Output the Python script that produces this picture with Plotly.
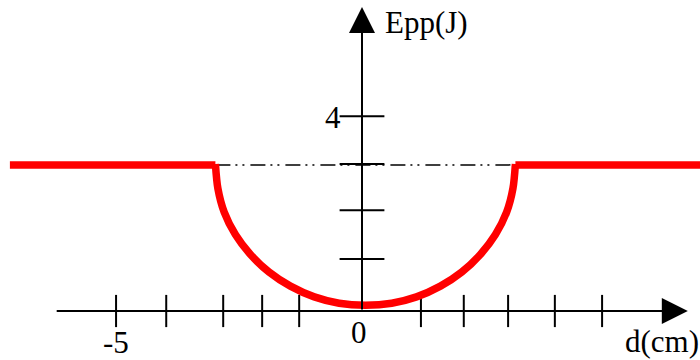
import plotly.graph_objects as go

# energy level of the flat parts (J) and the bowl
level = 3.0
left_x = [-7.23, -3.01]
right_x = [3.15, 7.0]

bowl_x = [-3.01, -2.96, -2.83, -2.60, -2.29, -1.91, -1.47, -0.98, -0.47, 0.07,
          0.61, 1.12, 1.61, 2.05, 2.43, 2.74, 2.97, 3.10, 3.15]
bowl_y = [3.02, 2.52, 2.03, 1.57, 1.16, 0.80, 0.51, 0.29, 0.16, 0.12,
          0.16, 0.29, 0.51, 0.80, 1.16, 1.57, 2.03, 2.52, 3.02]

# hand drawn tick positions
x_ticks = [-5.05, -4.02, -2.85, -2.05, -1.29, 1.21, 2.09, 3.00, 3.96, 4.93]
y_ticks = [1.07, 2.07, 3.02, 4.0]

x_labels = ["-5", "0"]
x_label_pos = [-5.05, -0.06]
y_labels = ["4"]

FONT = "Liberation Serif, Times New Roman, serif"
px_per_unit = 48.7

fig = go.Figure()

# dash-dot guide at the level
fig.add_trace(go.Scatter(
    x=[left_x[1], right_x[0]], y=[level, level], mode="lines",
    line=dict(color="black", width=1.5, dash="15px,5px,2px,5px,2px,6px"),
    hoverinfo="skip"))

# ticks crossing the axes
fig.add_trace(go.Scatter(
    x=x_ticks, y=[0] * len(x_ticks), mode="markers",
    marker=dict(symbol="line-ns", size=23, line=dict(color="black", width=2)),
    hoverinfo="skip"))
fig.add_trace(go.Scatter(
    x=[0] * len(y_ticks), y=y_ticks, mode="markers",
    marker=dict(symbol="line-ew", size=32, line=dict(color="black", width=2)),
    hoverinfo="skip"))

# Epp curve
fig.add_trace(go.Scatter(
    x=left_x + [None] + right_x, y=[level, level, None, level, level],
    mode="lines", line=dict(color="#ff0000", width=7.5), hoverinfo="skip"))
fig.add_trace(go.Scatter(
    x=bowl_x, y=bowl_y, mode="lines",
    line=dict(color="#ff0000", width=7.5, shape="spline", smoothing=0.8),
    hoverinfo="skip"))

# axes with arrows
fig.add_annotation(x=6.69, y=0, ax=-6.30, ay=0, axref="x", ayref="y",
                   xref="x", yref="y", text="", showarrow=True,
                   arrowhead=2, arrowsize=2.6, arrowwidth=2, arrowcolor="black")
fig.add_annotation(x=0, y=6.24, ax=0, ay=0, axref="x", ayref="y",
                   xref="x", yref="y", text="", showarrow=True,
                   arrowhead=2, arrowsize=2.6, arrowwidth=2, arrowcolor="black")

# texts
fig.add_annotation(x=0.43, y=5.93, text="Epp(J)", showarrow=False,
                   xanchor="left", yanchor="middle",
                   font=dict(family=FONT, size=31, color="black"))
fig.add_annotation(x=5.36, y=-0.62, text="d(cm)", showarrow=False,
                   xanchor="left", yanchor="middle",
                   font=dict(family=FONT, size=31, color="black"))
for lab, pos, yy in zip(x_labels, x_label_pos, [-0.64, -0.45]):
    fig.add_annotation(x=pos, y=yy, text=lab, showarrow=False,
                       xanchor="center", yanchor="middle",
                       font=dict(family=FONT, size=31, color="black"))
fig.add_annotation(x=-0.6, y=3.98, text=y_labels[0], showarrow=False,
                   xanchor="center", yanchor="middle",
                   font=dict(family=FONT, size=31, color="black"))

fig.update_xaxes(visible=False, range=[-362 / px_per_unit, 338 / px_per_unit])
fig.update_yaxes(visible=False, range=[-49 / px_per_unit, 311 / px_per_unit])
fig.update_layout(
    width=700, height=360,
    margin=dict(l=0, r=0, t=0, b=0),
    showlegend=False,
    plot_bgcolor="white", paper_bgcolor="white",
)

fig.write_html("out.html", config={"displayModeBar": False},
               post_script="document.body.style.margin='0';")
